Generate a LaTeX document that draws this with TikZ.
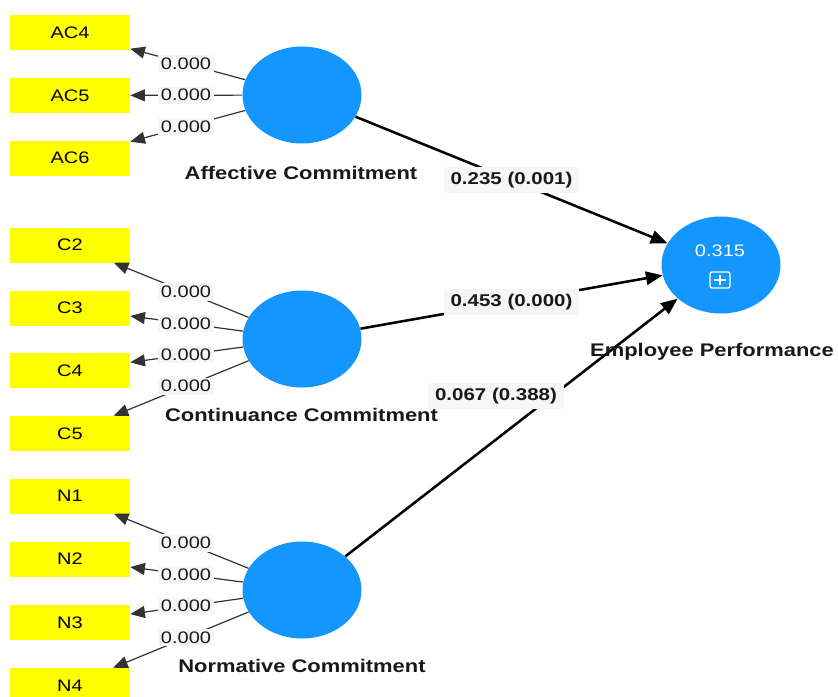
\documentclass[tikz,border=0pt]{standalone}
\usepackage{fontspec}
\setmainfont{Liberation Sans}[FakeStretch=1.2]
\usetikzlibrary{shapes.geometric,arrows.meta,calc}
\definecolor{lvblue}{RGB}{20,150,255}
\definecolor{indyellow}{RGB}{255,255,0}
\definecolor{txt}{RGB}{25,25,25}
\definecolor{lblbg}{RGB}{246,246,246}
\begin{document}
\begin{tikzpicture}[x=0.75pt,y=-0.75pt,
  lv/.style={ellipse,fill=lvblue,minimum width=89.25pt,minimum height=72.75pt,inner sep=0pt},
  ind/.style={rectangle,fill=indyellow,minimum width=90pt,minimum height=26.25pt,inner sep=0pt,text=black,font=\fontsize{12.5}{14}\selectfont},
  lvname/.style={text=txt,font=\bfseries\fontsize{13.7}{15}\selectfont,inner sep=0pt},
  load/.style={draw=black!80,line width=0.9pt,-{Triangle[length=11pt,width=9pt]}},
  path/.style={draw=black,line width=1.9pt,-{Triangle[length=12.5pt,width=10pt]}},
  lbl/.style={fill=lblbg,text=txt,inner xsep=2pt,inner ysep=2pt,font=\fontsize{12.5}{14}\selectfont},
  plbl/.style={fill=lblbg,text=txt,inner xsep=5pt,inner ysep=3.5pt,font=\bfseries\fontsize{12.8}{14}\selectfont}]
\useasboundingbox[fill=white] (0,0) rectangle (838,696);

% latent variables
\node[lv] (A) at (302,95) {};
\node[lv] (C) at (302,339) {};
\node[lv] (N) at (302,590) {};
\node[lv] (E) at (721,265) {};

% indicators
\node[ind] (AC4) at (70,32.5) {AC4};
\node[ind] (AC5) at (70,95.5) {AC5};
\node[ind] (AC6) at (70,158) {AC6};
\node[ind] (C2) at (70,245) {C2};
\node[ind] (C3) at (70,308) {C3};
\node[ind] (C4) at (70,370.5) {C4};
\node[ind] (C5) at (70,433.5) {C5};
\node[ind] (N1) at (70,496) {N1};
\node[ind] (N2) at (70,559) {N2};
\node[ind] (N3) at (70,622.5) {N3};
\node[ind] (N4) at (70,685.5) {N4};

% loading connectors
\foreach \l/\i in {A/AC4,A/AC5,A/AC6,C/C2,C/C3,C/C4,C/C5,N/N1,N/N2,N/N3,N/N4}{
  \draw[load] (\l) -- (\i);
}
\foreach \l/\i in {A/AC4,A/AC5,A/AC6,C/C2,C/C3,C/C4,C/C5,N/N1,N/N2,N/N3,N/N4}{
  \node[lbl] (lab\i) at ($(\l)!0.5!(\i)$) {0.000};
}

% structural paths
\draw[path] (A) -- (E);
\draw[path] (C) -- (E);
\draw[path] (N) -- (E);
\node[plbl] (pA) at ($(A)!0.5!(E)$) {0.235 (0.001)};
\node[plbl] (pC) at ($(C)!0.5!(E)$) {0.453 (0.000)};
\node[plbl] (pN) at (496,396) {0.067 (0.388)};

% names
\node[lvname] (tA) at (301,173) {Affective Commitment};
\node[lvname] (tC) at (301.5,415) {Continuance Commitment};
\node[lvname] (tN) at (302,666) {Normative Commitment};
\node[lvname] (tE) at (712,352) {Employee Performance};

% R2 and expand symbol
\node[text=white,font=\fontsize{12.5}{14}\selectfont,inner sep=0pt] (r2) at (720,251) {0.315};
\node[draw=white,line width=0.9pt,rounded corners=1.5pt,minimum width=15pt,minimum height=12pt,inner sep=0pt] (plus) at (720,280) {};
\draw[white,line width=0.9pt] ([xshift=-4.5pt]plus.center) -- ([xshift=4.5pt]plus.center);
\draw[white,line width=0.9pt] ([yshift=-4pt]plus.center) -- ([yshift=4pt]plus.center);
\end{tikzpicture}
\end{document}
